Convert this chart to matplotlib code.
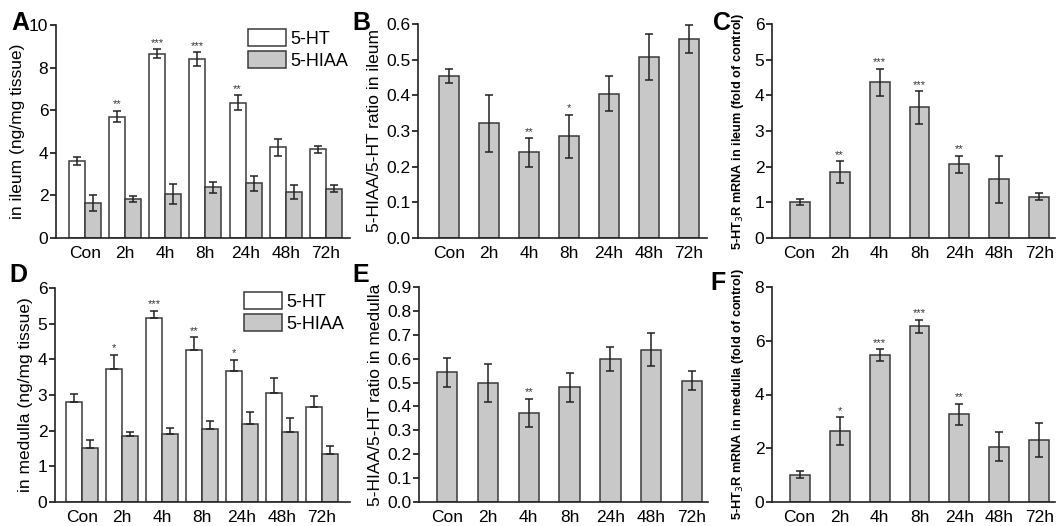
import numpy as np
import matplotlib.pyplot as plt
from matplotlib.patches import Patch

plt.rcParams['font.family'] = ['Liberation Sans', 'DejaVu Sans']

groups = ['Con', '2h', '4h', '8h', '24h', '48h', '72h']

# A: ileum
ileum_ht = [3.62, 5.70, 8.66, 8.40, 6.36, 4.25, 4.16]
ileum_ht_err = [0.18, 0.27, 0.20, 0.31, 0.34, 0.38, 0.18]
ileum_hiaa = [1.64, 1.83, 2.07, 2.38, 2.56, 2.16, 2.31]
ileum_hiaa_err = [0.36, 0.16, 0.46, 0.25, 0.37, 0.31, 0.16]
ileum_stars = ['', '**', '***', '***', '**', '', '']

# B: ratio ileum
ratio_ileum = [0.455, 0.322, 0.240, 0.285, 0.405, 0.507, 0.558]
ratio_ileum_err = [0.02, 0.08, 0.04, 0.06, 0.05, 0.065, 0.04]
ratio_ileum_stars = ['', '', '**', '*', '', '', '']

# C: 5-HT3R mRNA ileum
mrna_ileum = [1.00, 1.84, 4.36, 3.66, 2.07, 1.65, 1.16]
mrna_ileum_err = [0.08, 0.31, 0.38, 0.45, 0.24, 0.66, 0.10]
mrna_ileum_stars = ['', '**', '***', '***', '**', '', '']

# D: medulla
med_ht = [2.80, 3.72, 5.15, 4.27, 3.67, 3.07, 2.67]
med_ht_err = [0.22, 0.41, 0.21, 0.35, 0.32, 0.40, 0.29]
med_hiaa = [1.52, 1.84, 1.91, 2.05, 2.20, 1.96, 1.35]
med_hiaa_err = [0.23, 0.12, 0.16, 0.23, 0.32, 0.40, 0.23]
med_stars = ['', '*', '***', '**', '*', '', '']

# E: ratio medulla
ratio_med = [0.543, 0.498, 0.373, 0.480, 0.600, 0.638, 0.508]
ratio_med_err = [0.06, 0.08, 0.06, 0.06, 0.05, 0.07, 0.04]
ratio_med_stars = ['', '', '**', '', '', '', '']

# F: 5-HT3R mRNA medulla
mrna_med = [1.02, 2.63, 5.46, 6.54, 3.26, 2.06, 2.31]
mrna_med_err = [0.13, 0.52, 0.22, 0.25, 0.40, 0.53, 0.63]
mrna_med_stars = ['', '*', '***', '***', '**', '', '']

W, H = 1061, 526
GRAY = '#c8c8c8'
EDGE = '#3a3a3a'
TICKFS = 12.5
fig = plt.figure(figsize=(W / 100, H / 100), dpi=100)


def make_ax(x0, x1, y0, y1):
    # pixel box (from top-left) -> figure coords
    return fig.add_axes([x0 / W, (H - y1) / H, (x1 - x0) / W, (y1 - y0) / H])


def style(ax, ymax, step, fmt, xlim):
    ax.spines['top'].set_visible(False)
    ax.spines['right'].set_visible(False)
    for s in ['left', 'bottom']:
        ax.spines[s].set_linewidth(1.2)
        ax.spines[s].set_color('#222222')
    ticks = np.arange(0, ymax + step / 2, step)
    ax.set_ylim(0, ymax)
    ax.set_yticks(ticks)
    ax.set_yticklabels([fmt.format(v) for v in ticks])
    ax.set_xlim(*xlim)
    ax.set_xticks(np.arange(len(groups)))
    ax.set_xticklabels(groups)
    ax.tick_params(axis='y', length=4, width=1.1, labelsize=TICKFS, pad=1.5)
    ax.tick_params(axis='x', length=0, labelsize=TICKFS, pad=6)


def stars(ax, xs, tops, labels):
    for x, t, s in zip(xs, tops, labels):
        if s:
            ax.annotate(s, (x, t), xytext=(0, 1), textcoords='offset points',
                        ha='center', va='bottom', fontsize=8, color='#333333')


def legend(ax, xa, ya):
    handles = [Patch(facecolor='white', edgecolor=EDGE, linewidth=1.1, label='5-HT'),
               Patch(facecolor=GRAY, edgecolor=EDGE, linewidth=1.1, label='5-HIAA')]
    ax.legend(handles=handles, loc='upper left', bbox_to_anchor=(xa, ya), fontsize=13,
              frameon=False, handlelength=2.1, handleheight=1.05, handletextpad=0.25,
              labelspacing=0.2, borderaxespad=0, borderpad=0)


x = np.arange(len(groups))
ekw = dict(elinewidth=1.1, capthick=1.1, ecolor='#222222')

# ---- A ----
ax = make_ax(56, 350, 25, 238)
ax.bar(x - 0.2, ileum_ht, 0.4, color='white', edgecolor=EDGE, linewidth=1.1,
       yerr=ileum_ht_err, capsize=3, error_kw=ekw)
ax.bar(x + 0.2, ileum_hiaa, 0.4, color=GRAY, edgecolor=EDGE, linewidth=1.1,
       yerr=ileum_hiaa_err, capsize=3, error_kw=ekw)
style(ax, 10, 2, '{:.0f}', (-0.72, 6.6))
stars(ax, x - 0.2, np.add(ileum_ht, ileum_ht_err), ileum_stars)
ax.set_ylabel('in ileum (ng/mg tissue)', fontsize=12.5, labelpad=3)
legend(ax, 0.653, 0.981)

# ---- B ----
ax = make_ax(418, 707, 24, 238)
ax.bar(x, ratio_ileum, 0.5, color=GRAY, edgecolor=EDGE, linewidth=1.1,
       yerr=ratio_ileum_err, capsize=3, error_kw=ekw)
style(ax, 0.6, 0.1, '{:.1f}', (-0.77, 6.45))
stars(ax, x, np.add(ratio_ileum, ratio_ileum_err), ratio_ileum_stars)
ax.set_ylabel('5-HIAA/5-HT ratio in ileum', fontsize=12.5, labelpad=3)

# ---- C ----
ax = make_ax(772, 1055, 24, 238)
ax.bar(x, mrna_ileum, 0.5, color=GRAY, edgecolor=EDGE, linewidth=1.1,
       yerr=mrna_ileum_err, capsize=3, error_kw=ekw)
style(ax, 6, 1, '{:.0f}', (-0.69, 6.39))
stars(ax, x, np.add(mrna_ileum, mrna_ileum_err), mrna_ileum_stars)
ax.set_ylabel('5-HT$_3$R mRNA in ileum (fold of control)', fontsize=9.2,
              fontweight='bold', labelpad=6)

# ---- D ----
ax = make_ax(55, 350, 288, 502)
ax.bar(x - 0.2, med_ht, 0.4, color='white', edgecolor=EDGE, linewidth=1.1,
       yerr=[np.zeros(len(groups)), med_ht_err], capsize=3, error_kw=ekw)
ax.bar(x + 0.2, med_hiaa, 0.4, color=GRAY, edgecolor=EDGE, linewidth=1.1,
       yerr=[np.zeros(len(groups)), med_hiaa_err], capsize=3, error_kw=ekw)
style(ax, 6, 1, '{:.0f}', (-0.68, 6.7))
stars(ax, x - 0.2, np.add(med_ht, med_ht_err), med_stars)
ax.set_ylabel('in medulla (ng/mg tissue)', fontsize=12.5, labelpad=3)
legend(ax, 0.641, 0.981)

# ---- E ----
ax = make_ax(419, 708, 287, 502)
ax.bar(x, ratio_med, 0.5, color=GRAY, edgecolor=EDGE, linewidth=1.1,
       yerr=ratio_med_err, capsize=3, error_kw=ekw)
style(ax, 0.9, 0.1, '{:.1f}', (-0.69, 6.39))
stars(ax, x, np.add(ratio_med, ratio_med_err), ratio_med_stars)
ax.set_ylabel('5-HIAA/5-HT ratio in medulla', fontsize=12.5, labelpad=3)

# ---- F ----
ax = make_ax(772, 1055, 287, 502)
ax.bar(x, mrna_med, 0.5, color=GRAY, edgecolor=EDGE, linewidth=1.1,
       yerr=mrna_med_err, capsize=3, error_kw=ekw)
style(ax, 8, 2, '{:.0f}', (-0.69, 6.39))
stars(ax, x, np.add(mrna_med, mrna_med_err), mrna_med_stars)
ax.set_ylabel('5-HT$_3$R mRNA in medulla (fold of control)', fontsize=9.2,
              fontweight='bold', labelpad=6)

# panel letters
for lab, px, py in [('A', 11, 11), ('B', 352, 11), ('C', 713, 11),
                    ('D', 9, 263), ('E', 352, 263), ('F', 710, 271)]:
    fig.text(px / W, 1 - py / H, lab, fontsize=18, fontweight='bold', va='top', ha='left')

fig.savefig('out.png', dpi=100)
